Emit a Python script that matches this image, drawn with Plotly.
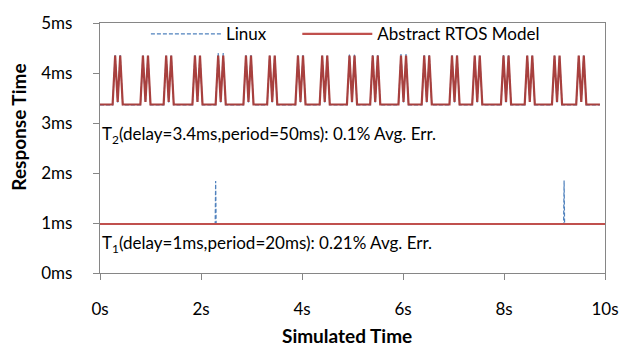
import plotly.graph_objects as go

# ---------------- data ----------------
x_ticks = [0, 2, 4, 6, 8, 10]
x_tick_labels = ["0s", "2s", "4s", "6s", "8s", "10s"]
y_ticks = [0, 1, 2, 3, 4, 5]
y_tick_labels = ["0ms", "1ms", "2ms", "3ms", "4ms", "5ms"]

# T2 (delay=3.4ms, period=50ms): bursts of two peaks, centre time of each burst (s)
t2_burst_centres = [0.35, 0.90, 1.36, 1.93, 2.39, 2.94, 3.41, 3.97, 4.45, 4.99,
                    5.45, 6.01, 6.47, 7.02, 7.47, 8.04, 8.51, 9.05, 9.53]
t2_start, t2_end = 0.0, 9.90
t2_sample = 0.05  # one job every 50 ms
t2_base_model = 3.37
t2_base_linux = 3.36
t2_peak_model = [4.35, 4.35, 4.35, 4.35, 4.35, 4.35, 4.35, 4.35, 4.35, 4.35,
                 4.35, 4.35, 4.35, 4.35, 4.35, 4.35, 4.35, 4.35, 4.35]
t2_peak_linux = [4.36, 4.36, 4.35, 4.36, 4.40, 4.36, 4.35, 4.36, 4.35, 4.37,
                 4.36, 4.38, 4.36, 4.36, 4.35, 4.36, 4.36, 4.35, 4.36]
t2_dip_model = 3.42
t2_dip_linux = 3.41

# T1 (delay=1ms, period=20ms)
t1_time_model = [0.0, 10.0]
t1_model = [0.98, 0.98]
t1_time_linux = [0.0, 2.28, 2.29, 2.30, 9.18, 9.19, 9.20, 10.0]
t1_linux = [0.98, 0.98, 1.84, 0.98, 0.98, 1.85, 0.98, 0.98]


def burst_series(centres, peaks, base, dip, start, end, step):
    ts, ys = [start], [base]
    for c, p in zip(centres, peaks):
        ts += [c - 2 * step, c - step, c, c + step, c + 2 * step]
        ys += [base, p, dip, p, base]
    ts.append(end)
    ys.append(base)
    return ts, ys


t2_time_linux, t2_linux = burst_series(t2_burst_centres, t2_peak_linux, t2_base_linux,
                                       t2_dip_linux, t2_start, t2_end, t2_sample)
t2_time_model, t2_model = burst_series(t2_burst_centres, t2_peak_model, t2_base_model,
                                       t2_dip_model, t2_start, t2_end, t2_sample)

# ---------------- styles ----------------
BLUE = "#4f81bd"
RED = "#c0504d"
AXIS = "#868686"
FONT = "Lato"
FS = 17

fig = go.Figure()
fig.add_trace(go.Scatter(x=t1_time_linux, y=t1_linux, mode="lines", name="Linux",
                         line=dict(color=BLUE, width=1.2, dash="4px,2px"),
                         legend="legend"))
fig.add_trace(go.Scatter(x=t2_time_linux, y=t2_linux, mode="lines", name="Linux",
                         line=dict(color=BLUE, width=1.2, dash="4px,2px"),
                         showlegend=False))
fig.add_trace(go.Scatter(x=t1_time_model, y=t1_model, mode="lines", name="Abstract RTOS Model",
                         line=dict(color=RED, width=2.2), legend="legend2"))
fig.add_trace(go.Scatter(x=t2_time_model, y=t2_model, mode="lines", name="Abstract RTOS Model",
                         line=dict(color="#a8403e", width=2.2), showlegend=False))

legend_common = dict(orientation="h", xanchor="left", y=0.955, yanchor="middle",
                     bgcolor="rgba(0,0,0,0)", font=dict(size=FS), itemwidth=70)

fig.update_layout(
    width=631, height=346,
    margin=dict(l=100, r=14, t=16, b=73),
    paper_bgcolor="white", plot_bgcolor="white",
    font=dict(family=FONT, size=FS, color="#000000"),
    showlegend=True,
    legend=dict(x=0.0909, **legend_common),
    legend2=dict(x=0.3907, **legend_common),
    xaxis=dict(range=[0, 10], tickvals=x_ticks, ticktext=x_tick_labels,
               showgrid=False, zeroline=False, showline=True, linecolor=AXIS, linewidth=1.3,
               mirror=True, ticks="outside", ticklen=6, tickcolor=AXIS, tickwidth=1.3,
               ticklabelstandoff=14, tickfont=dict(size=FS)),
    yaxis=dict(range=[0, 5], tickvals=y_ticks, ticktext=y_tick_labels,
               showgrid=False, zeroline=False, showline=True, linecolor=AXIS, linewidth=1.3,
               mirror=True, ticks="outside", ticklen=6, tickcolor=AXIS, tickwidth=1.3,
               ticklabelstandoff=17, tickfont=dict(size=FS)),
    annotations=[
        dict(text="T<sub>2</sub>(delay=3.4ms,period=50ms): 0.1% Avg. Err.",
             xref="paper", yref="y", x=0.0, y=2.77, xanchor="left", yanchor="middle",
             showarrow=False, font=dict(size=FS)),
        dict(text="T<sub>1</sub>(delay=1ms,period=20ms): 0.21% Avg. Err.",
             xref="paper", yref="y", x=0.0, y=0.59, xanchor="left", yanchor="middle",
             showarrow=False, font=dict(size=FS)),
        dict(text="<b>Response Time</b>", xref="paper", yref="paper",
             x=-0.163, y=0.584, xanchor="center", yanchor="middle", textangle=-90,
             showarrow=False, font=dict(size=19)),
        dict(text="<b>Simulated Time</b>", xref="paper", yref="paper",
             x=0.49, y=-0.25, xanchor="center", yanchor="middle",
             showarrow=False, font=dict(size=19)),
    ],
)

fig.write_html("out.html", config={"displayModeBar": False},
               post_script="document.body.style.margin='0';")
